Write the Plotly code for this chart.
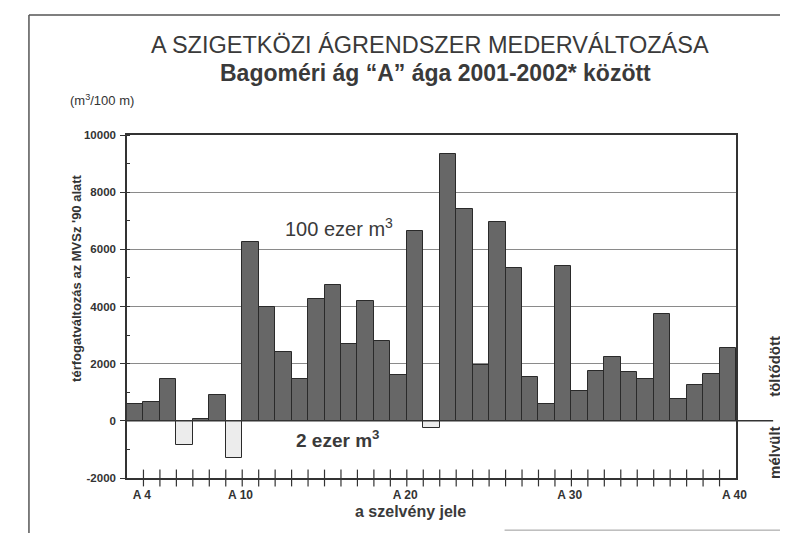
"""Szigetköz branch system: bed volume change along the Bagoméri branch."""

import plotly.graph_objects as go

# Data
sections = list(range(4, 41))
volume_change = [
    600, 650, 1450, -850, 60, 900, -1300, 6250, 4000, 2400,
    1450, 4250, 4750, 2700, 4200, 2800, 1600, 6650, -250, 9350,
    7400, 1950, 6950, 5350, 1550, 600, 5400, 1050, 1750, 2250,
    1700, 1450, 3750, 750, 1250, 1650, 2550,
]
label_sections = [4, 10, 20, 30, 40]
label_text = ["A 4", "A 10", "A 20", "A 30", "A 40"]
y_ticks = [-2000, 0, 2000, 4000, 6000, 8000, 10000]

FONT = "Liberation Sans, Arial, sans-serif"
INK = "#333333"

bar_colors = ["#676767" if v >= 0 else "#ececec" for v in volume_change]
boundaries = [s + 0.5 for s in sections[:-1]]
y_range = [y_ticks[0], y_ticks[-1]]

fig = go.Figure()
fig.add_trace(
    go.Bar(
        x=sections,
        y=volume_change,
        marker=dict(color=bar_colors, line=dict(color="#2a2a2a", width=1)),
        width=1.0,
        hoverinfo="x+y",
    )
)

# crossing tick marks on the bottom axis, between the sections
fig.add_trace(
    go.Scatter(
        x=boundaries,
        y=[y_range[0]] * len(boundaries),
        mode="markers",
        marker=dict(symbol="line-ns", size=12, line=dict(width=1.2, color=INK)),
        cliponaxis=False,
        hoverinfo="skip",
    )
)

axis_range = [sections[0] - 0.5, sections[-1] + 0.5]

# the page body has an 8px margin, so the figure is 8px smaller than the window
fig.update_layout(
    width=780,
    height=525,
    autosize=False,
    margin=dict(l=119, r=52, t=127, b=55),
    paper_bgcolor="white",
    plot_bgcolor="white",
    showlegend=False,
    bargap=0,
    font=dict(family=FONT, color=INK),
    xaxis=dict(
        range=axis_range,
        tickvals=[s + 0.4 for s in label_sections],
        ticktext=label_text,
        ticks="",
        ticklabelstandoff=5,
        tickfont=dict(size=12, family=FONT, color=INK, weight="bold"),
        showgrid=False,
        zeroline=False,
        showline=True,
        linecolor=INK,
        linewidth=1.5,
        mirror=True,
    ),
    yaxis=dict(
        range=y_range,
        tickvals=y_ticks,
        ticktext=[str(v) for v in y_ticks],
        ticks="outside",
        ticklen=5,
        tickcolor=INK,
        ticklabelstandoff=2,
        tickfont=dict(size=11.5, family=FONT, color=INK, weight="bold"),
        minor=dict(dtick=1000, ticks="inside", ticklen=3, tickcolor=INK, showgrid=False),
        showgrid=True,
        gridcolor="#8a8a8a",
        gridwidth=1,
        zeroline=False,
        showline=True,
        linecolor=INK,
        linewidth=1.5,
        mirror=True,
    ),
)

# zero line running past the right edge of the plot
fig.add_shape(type="line", xref="paper", yref="y", x0=0, x1=1.061, y0=0, y1=0,
              line=dict(color=INK, width=1.5))

# page frame
frame = dict(color="#555555", width=1.5)
fig.add_shape(type="line", xref="paper", yref="paper", x0=-0.161, x1=1.09, y0=1.35, y1=1.35, line=frame)
fig.add_shape(type="line", xref="paper", yref="paper", x0=-0.161, x1=-0.161, y0=1.35, y1=-0.17, line=frame)
fig.add_shape(type="line", xref="paper", yref="paper", x0=0.62, x1=1.09, y0=-0.152, y1=-0.152,
              line=dict(color="#999999", width=1))

notes = [
    dict(text="A SZIGETKÖZI ÁGRENDSZER MEDERVÁLTOZÁSA", x=0.4975, y=1.262, size=23.5, bold=False),
    dict(text="Bagoméri ág “A” ága 2001-2002* között", x=0.506, y=1.181, size=23, bold=True),
    dict(text="a szelvény jele", x=0.465, y=-0.099, size=16, bold=True),
]
for n in notes:
    fig.add_annotation(
        text=n["text"], x=n["x"], y=n["y"], xref="paper", yref="paper",
        showarrow=False, xanchor="center", yanchor="middle",
        font=dict(size=n["size"], family=FONT, color="#3a3a3a",
                  weight="bold" if n["bold"] else "normal"),
    )

fig.add_annotation(
    text="(m<sup>3</sup>/100 m)", x=-0.097, y=1.102, xref="paper", yref="paper",
    showarrow=False, xanchor="left", yanchor="middle",
    font=dict(size=13, family=FONT, color=INK),
)
fig.add_annotation(
    text="térfogatváltozás az MVSz '90 alatt", x=-0.084, y=0.583,
    xref="paper", yref="paper", showarrow=False, textangle=-90,
    xanchor="center", yanchor="middle",
    font=dict(size=13, family=FONT, color=INK, weight="bold"),
)
fig.add_annotation(
    text="100 ezer m<sup>3</sup>", x=16.4, y=6750, xref="x", yref="y",
    showarrow=False, font=dict(size=20, family=FONT, color="#3a3a3a"),
)
fig.add_annotation(
    text="2 ezer m<sup>3</sup>", x=16.3, y=-650, xref="x", yref="y",
    showarrow=False, font=dict(size=19, family=FONT, color="#3a3a3a", weight="bold"),
)
for text, yy in [("töltődött", 0.327), ("mélyült", 0.076)]:
    fig.add_annotation(
        text=text, x=1.064, y=yy, xref="paper", yref="paper", showarrow=False,
        textangle=-90, xanchor="center", yanchor="middle",
        font=dict(size=15, family=FONT, color=INK, weight="bold"),
    )

fig.write_html("out.html")
